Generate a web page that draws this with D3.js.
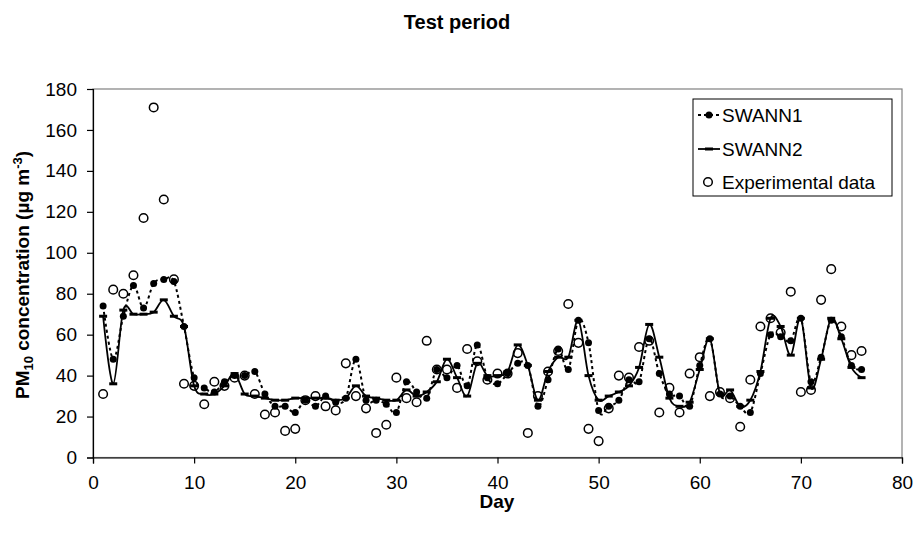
<!DOCTYPE html>
<html>
<head>
<meta charset="utf-8">
<script src="https://cdn.jsdelivr.net/npm/d3@7"></script>
<style>
	body { margin: 0; background: #fff; }
	text { font-family: Arial, "Liberation Sans", sans-serif; }
</style>
</head>
<body>
<svg id="chart" width="914" height="534"></svg>
<script>

var days = [1, 2, 3, 4, 5, 6, 7, 8, 9, 10, 11, 12, 13, 14, 15, 16, 17, 18, 19, 20,
	21, 22, 23, 24, 25, 26, 27, 28, 29, 30, 31, 32, 33, 34, 35, 36, 37, 38, 39, 40,
	41, 42, 43, 44, 45, 46, 47, 48, 49, 50, 51, 52, 53, 54, 55, 56, 57, 58, 59, 60,
	61, 62, 63, 64, 65, 66, 67, 68, 69, 70, 71, 72, 73, 74, 75, 76];

var swann1 = [74, 48, 69, 84, 73, 85, 87, 86, 64, 39, 34, 32, 37, 40, 40, 42, 31, 25, 25, 22,
	28, 25, 30, 27, 29, 48, 28, 28, 26, 22, 37, 32, 29, 43, 39, 45, 35, 55, 39, 36,
	41, 46, 45, 25, 38, 53, 43, 67, 56, 23, 25, 28, 38, 37, 58, 41, 31, 30, 25, 45,
	58, 31, 30, 25, 22, 41, 60, 59, 57, 68, 37, 49, 67, 59, 45, 43];

var swann2 = [69, 36, 72, 70, 70, 71, 77, 69, 64, 35, 31, 31, 35, 41, 31, 30, 29, 28, 28, 29,
	29, 29, 29, 28, 29, 35, 30, 29, 28, 28, 33, 30, 32, 37, 48, 39, 30, 46, 40, 40,
	42, 55, 45, 28, 42, 49, 49, 67, 40, 28, 30, 32, 35, 44, 65, 49, 29, 25, 27, 43,
	58, 31, 33, 25, 28, 42, 68, 64, 50, 68, 34, 48, 68, 58, 44, 39];

var experimental = [31, 82, 80, 89, 117, 171, 126, 87, 36, 35, 26, 37, 35, 39, 40, 31, 21, 22, 13, 14,
	28, 30, 25, 23, 46, 30, 24, 12, 16, 39, 29, 27, 57, 43, 43, 34, 53, 47, 38, 41,
	41, 51, 12, 30, 42, 52, 75, 56, 14, 8, 24, 40, 39, 54, 57, 22, 34, 22, 41, 49,
	30, 32, 29, 15, 38, 64, 68, 61, 81, 32, 33, 77, 92, 64, 50, 52];

var xTicks = [0, 10, 20, 30, 40, 50, 60, 70, 80];
var yTicks = [0, 20, 40, 60, 80, 100, 120, 140, 160, 180];
var legendLabels = ['SWANN1', 'SWANN2', 'Experimental data'];

var plotLeft = 93, plotRight = 902, plotTop = 89, plotBottom = 457.5;
var fontSize = 19;

var svg = d3.select('#chart');

var xScale = d3.scaleLinear()
	.domain([0, 80])
	.range([plotLeft, plotRight]);

var yScale = d3.scaleLinear()
	.domain([0, 180])
	.range([plotBottom, plotTop]);

// plot area frame (grey top / right like excel)
svg.append('rect')
	.attr('x', plotLeft)
	.attr('y', plotTop)
	.attr('width', plotRight - plotLeft)
	.attr('height', plotBottom - plotTop)
	.attr('fill', 'none')
	.attr('stroke', '#808080')
	.attr('stroke-width', 1.2);

var xAxis = svg.append('g')
	.attr('transform', 'translate(0,' + plotBottom + ')')
	.call(d3.axisBottom(xScale).tickValues(xTicks).tickSize(6).tickPadding(12));

var yAxis = svg.append('g')
	.attr('transform', 'translate(' + plotLeft + ',0)')
	.call(d3.axisLeft(yScale).tickValues(yTicks).tickSize(6).tickPadding(10));

[xAxis, yAxis].forEach(function(ax){
	ax.select('.domain').attr('stroke', '#000').attr('stroke-width', 1.2);
	ax.selectAll('.tick line').attr('stroke', '#000').attr('stroke-width', 1.2);
	ax.selectAll('.tick text')
		.attr('fill', '#000')
		.style('font-size', fontSize + 'px')
		.style('font-family', 'Arial, "Liberation Sans", sans-serif');
});

// titles
svg.append('text')
	.attr('x', 457)
	.attr('y', 29)
	.attr('text-anchor', 'middle')
	.style('font-size', '20px')
	.style('font-weight', 'bold')
	.text('Test period');

svg.append('text')
	.attr('x', 497)
	.attr('y', 508)
	.attr('text-anchor', 'middle')
	.style('font-size', fontSize + 'px')
	.style('font-weight', 'bold')
	.text('Day');

var yTitle = svg.append('text')
	.attr('transform', 'translate(29,' + 275 + ') rotate(-90)')
	.attr('text-anchor', 'middle')
	.style('font-size', fontSize + 'px')
	.style('font-weight', 'bold');
yTitle.append('tspan').text('PM');
yTitle.append('tspan').attr('dy', 4).style('font-size', '13px').text('10');
yTitle.append('tspan').attr('dy', -4).text(' concentration (\u00b5g m');
yTitle.append('tspan').attr('dy', -7).style('font-size', '13px').text('-3');
yTitle.append('tspan').attr('dy', 7).text(')');

// series
var smooth = d3.curveCatmullRom.alpha(0);

var lineGen = d3.line()
	.x(function(d, i) { return xScale(days[i]) })
	.y(function(d) { return yScale(d) })
	.curve(smooth);

svg.append('path')
	.datum(swann1)
	.attr('d', lineGen)
	.attr('fill', 'none')
	.attr('stroke', '#000')
	.attr('stroke-width', 2)
	.attr('stroke-dasharray', '3,3');

svg.append('g').selectAll('circle')
	.data(swann1)
	.join('circle')
	.attr('cx', function(d, i) { return xScale(days[i]) })
	.attr('cy', function(d) { return yScale(d) })
	.attr('r', 3.5)
	.attr('fill', '#000');

svg.append('path')
	.datum(swann2)
	.attr('d', lineGen)
	.attr('fill', 'none')
	.attr('stroke', '#000')
	.attr('stroke-width', 1.8);

svg.append('g').selectAll('rect')
	.data(swann2)
	.join('rect')
	.attr('x', function(d, i) { return xScale(days[i]) - 4 })
	.attr('y', function(d) { return yScale(d) - 1.5 })
	.attr('width', 8)
	.attr('height', 3)
	.attr('fill', '#000');

svg.append('g').selectAll('circle')
	.data(experimental)
	.join('circle')
	.attr('cx', function(d, i) { return xScale(days[i]) })
	.attr('cy', function(d) { return yScale(d) })
	.attr('r', 4.3)
	.attr('fill', 'none')
	.attr('stroke', '#000')
	.attr('stroke-width', 1.5);

// legend
var legend = svg.append('g');

legend.append('rect')
	.attr('x', 693)
	.attr('y', 99)
	.attr('width', 199)
	.attr('height', 97)
	.attr('fill', '#fff')
	.attr('stroke', '#000')
	.attr('stroke-width', 1);

var rowY = [115, 149, 182];

legend.append('line')
	.attr('x1', 698).attr('x2', 720)
	.attr('y1', rowY[0]).attr('y2', rowY[0])
	.attr('stroke', '#000').attr('stroke-width', 2)
	.attr('stroke-dasharray', '3,3');
legend.append('circle')
	.attr('cx', 709).attr('cy', rowY[0]).attr('r', 3.5).attr('fill', '#000');

legend.append('line')
	.attr('x1', 698).attr('x2', 720)
	.attr('y1', rowY[1]).attr('y2', rowY[1])
	.attr('stroke', '#000').attr('stroke-width', 1.8);
legend.append('rect')
	.attr('x', 705).attr('y', rowY[1] - 1.5).attr('width', 8).attr('height', 3).attr('fill', '#000');

legend.append('circle')
	.attr('cx', 708).attr('cy', rowY[2]).attr('r', 4.3)
	.attr('fill', 'none').attr('stroke', '#000').attr('stroke-width', 1.5);

legend.selectAll('text.lbl')
	.data(legendLabels)
	.join('text')
	.attr('class', 'lbl')
	.attr('x', 722)
	.attr('y', function(d, i) { return rowY[i] + 7 })
	.style('font-size', fontSize + 'px')
	.text(function(d) { return d });

</script>
</body>
</html>
